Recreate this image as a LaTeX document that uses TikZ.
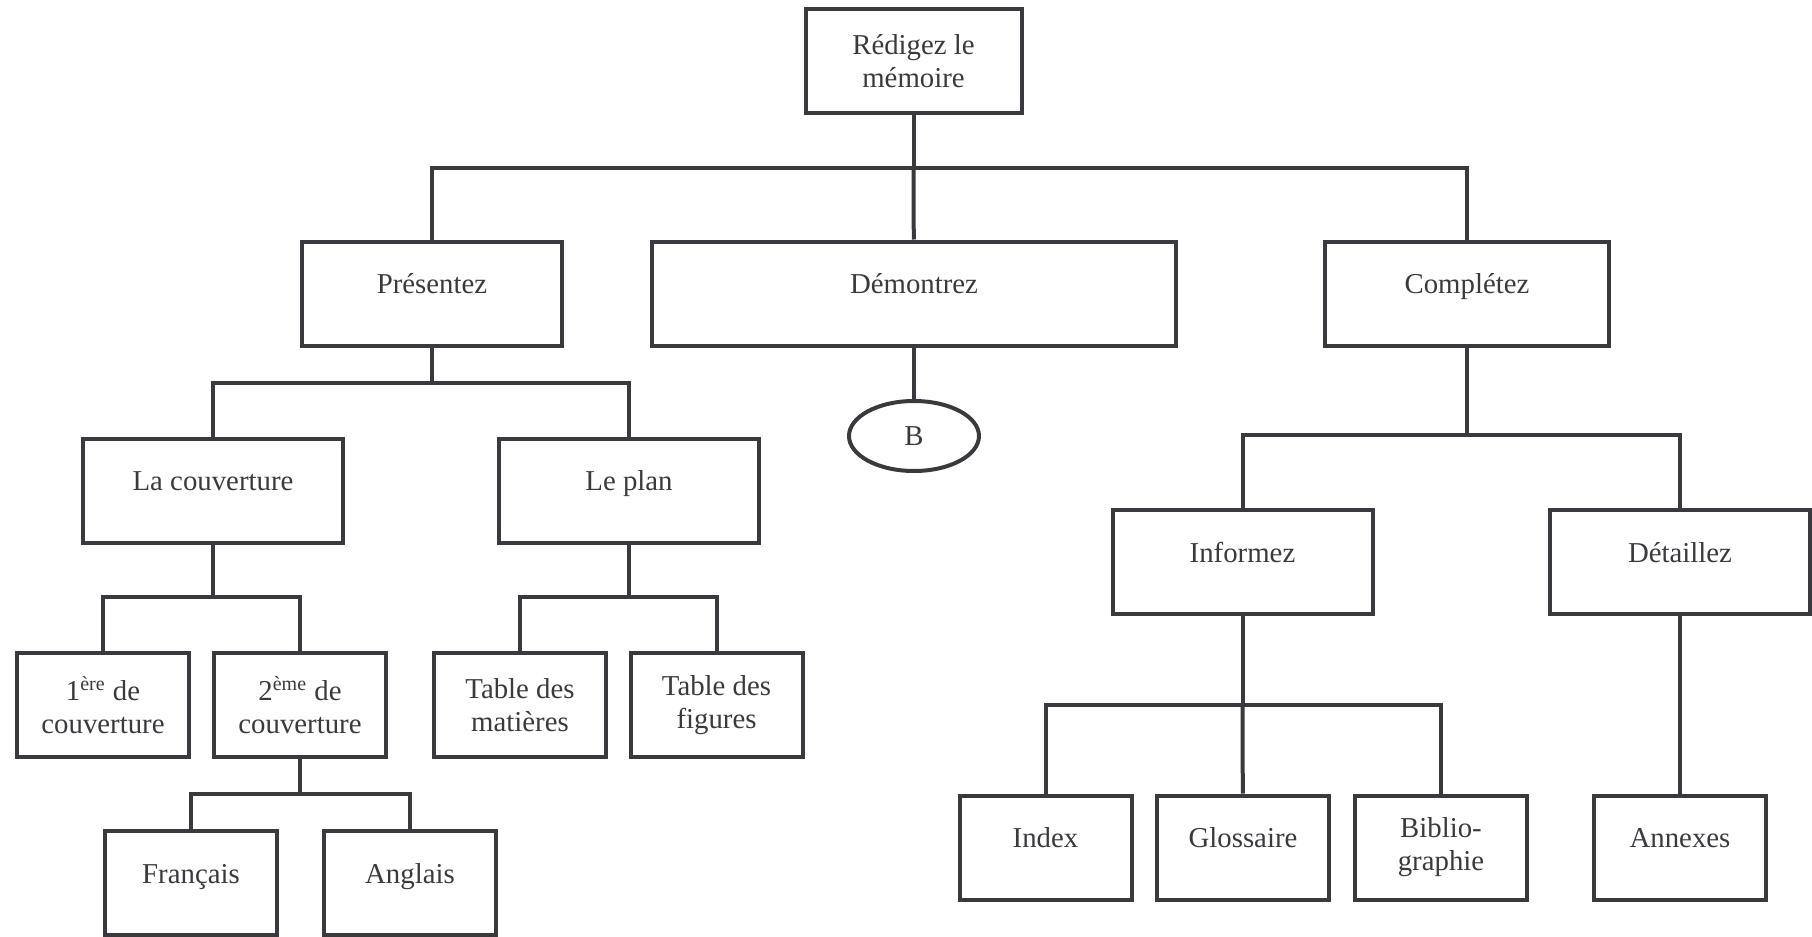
\documentclass[tikz,border=0pt]{standalone}
\usepackage{fontspec}
\setmainfont{Liberation Serif}
\usetikzlibrary{positioning, shapes.geometric}
\definecolor{inkgray}{RGB}{58,58,62}

\begin{document}
\begin{tikzpicture}[x=0.5pt, y=-0.5pt, line width=2pt, color=inkgray,
  font=\fontsize{14.4pt}{16.5pt}\selectfont,
  box/.style={draw, rectangle, minimum height=52pt, inner sep=2pt, align=center},
  one/.style={text height=1.6ex, text depth=1.6ex},
  smallbox/.style={box, minimum width=86pt},
  midbox/.style={box, minimum width=130pt}]
\useasboundingbox (0,0) rectangle (1812,937);

% niveau 0 et 1
\node (root) [box, minimum width=108pt] at (913.5,61) {Rédigez le\\mémoire};
\node (pres) [midbox, one] at (432,293.5) {Présentez};
\node (demo) [box, one, minimum width=262pt] at (914,293.5) {Démontrez};
\node (cpl) [box, one, minimum width=142pt] at (1467,293.5) {Complétez};
\node (b) [draw, ellipse, minimum width=65pt, minimum height=35pt] at (914,436) {B};

% branche Présentez
\node (couv) [midbox, one] at (213,490.5) {La couverture};
\node (plan) [midbox, one] at (629,490.5) {Le plan};
\node (first) [smallbox] at (103,705) {1\textsuperscript{ère} de\\couverture};
\node (second) [smallbox] at (300,705) {2\textsuperscript{ème} de\\couverture};
\node (tdm) [smallbox] at (520,705) {Table des\\matières};
\node (tdf) [smallbox] at (716.5,705) {Table des\\figures};
\node (fr) [smallbox, one] at (191,883) {Français};
\node (en) [smallbox, one] at (410,883) {Anglais};

% branche Complétez
\node (info) [midbox, one] at (1242.5,562) {Informez};
\node (detail) [midbox, one] at (1680,562) {Détaillez};
\node (index) [smallbox, one] at (1045.5,847.5) {Index};
\node (gloss) [smallbox, one] at (1243,847.5) {Glossaire};
\node (biblio) [smallbox] at (1441,847.5) {Biblio-\\graphie};
\node (annex) [smallbox, one] at (1680,847.5) {Annexes};

% liaisons
\coordinate (j0) at (913.5,168);
\coordinate (j1) at (432,383);
\coordinate (j2) at (213,597);
\coordinate (j3) at (629,597);
\coordinate (j4) at (300,794);
\coordinate (j5) at (1467,435);
\coordinate (j6) at (1242.5,705);
\draw (root) -- (j0);
\draw (pres) |- (j0) -| (cpl);
\draw (demo) -- (j0);
\draw (demo) -- (b);
\draw (pres) -- (j1);
\draw (couv) |- (j1) -| (plan);
\draw (couv) -- (j2);
\draw (first) |- (j2) -| (second);
\draw (plan) -- (j3);
\draw (tdm) |- (j3) -| (tdf);
\draw (second) -- (j4);
\draw (fr) |- (j4) -| (en);
\draw (cpl) -- (j5);
\draw (info) |- (j5) -| (detail);
\draw (info) -- (j6);
\draw (index) |- (j6) -| (biblio);
\draw (gloss) -- (j6);
\draw (detail) -- (annex);
\end{tikzpicture}
\end{document}
